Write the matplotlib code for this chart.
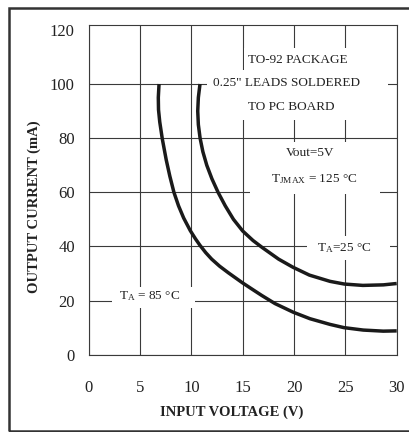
import matplotlib
matplotlib.use("Agg")
import matplotlib.pyplot as plt
from matplotlib.patches import Rectangle

plt.rcParams['font.family'] = 'Liberation Serif'
plt.rcParams['mathtext.fontset'] = 'custom'
plt.rcParams['mathtext.rm'] = 'Liberation Serif'
plt.rcParams['mathtext.it'] = 'Liberation Serif:italic'
plt.rcParams['mathtext.bf'] = 'Liberation Serif:bold'

# T_A = 85 C curve
v_85 = [6.85, 6.78, 6.80, 6.92, 7.17, 7.55, 7.90, 8.30, 8.75, 9.25, 9.90,
        10.40, 10.84, 11.40, 11.98, 12.75, 13.59, 14.96, 16.00, 16.85, 18.14,
        19.92, 21.55, 23.50, 24.86, 26.74, 28.69, 30.0]
i_85 = [100, 95, 90.5, 86, 79.7, 72, 66, 60, 55, 50.5, 45.8,
        42.8, 40.4, 37.7, 35.3, 32.7, 30.3, 26.6, 24.0, 21.9, 18.9,
        15.7, 13.3, 11.2, 10.0, 9.1, 8.7, 8.8]

# T_A = 25 C curve
v_25 = [10.84, 10.68, 10.62, 10.68, 10.85, 11.12, 11.50, 12.00, 12.60, 13.30,
        14.10, 15.00, 16.00, 16.90, 18.50, 19.90, 21.50, 23.50, 24.90, 26.70,
        28.70, 30.0]
i_25 = [100, 95, 90, 85, 80, 75, 70, 65, 60, 55,
        50, 45.7, 42.2, 39.6, 35.3, 32.3, 29.4, 27.1, 26.1, 25.6,
        25.8, 26.3]

x_ticks = [0, 5, 10, 15, 20, 25, 30]
y_ticks = [0, 20, 40, 60, 80, 100, 120]

W, H = 409, 432
fig = plt.figure(figsize=(W / 100, H / 100), dpi=100)
ax = fig.add_axes([88.7 / W, (H - 354.7) / H, 308 / W, 329.7 / H])

ax.set_xlim(0, 30)
ax.set_ylim(0, 121.8)
ax.set_xticks(x_ticks)
ax.set_yticks(y_ticks)
ax.set_axisbelow(True)
ax.grid(True, color='#3a3a3a', linewidth=0.8)
ax.get_ygridlines()[-1].set_visible(False)  # top spine plays that role
for s in ax.spines.values():
    s.set_color('#3a3a3a')
    s.set_linewidth(0.8)
ax.tick_params(axis='both', length=0, labelsize=12, colors='#222222')
ax.tick_params(axis='x', pad=18)
ax.tick_params(axis='y', pad=10)

ax.set_xlabel('INPUT VOLTAGE (V)', fontsize=10.5, fontweight='bold', color='#222222')
ax.set_ylabel('OUTPUT CURRENT (mA)', fontsize=10.5, fontweight='bold', color='#222222')
ax.xaxis.set_label_coords(0.465, -0.155)
ax.yaxis.set_label_coords(-0.155, 0.45)

# white masks behind the notes
masks = [
    (15.1, 105.2, 29.14, 113.3),
    (11.52, 86.7, 29.14, 105.2),
    (15.7, 59.3, 28.4, 78.6),
    (21.26, 35.0, 29.34, 43.8),
    (2.28, 17.2, 10.35, 24.9),
]
for x0, y0, x1, y1 in masks:
    ax.add_patch(Rectangle((x0, y0), x1 - x0, y1 - y0, facecolor='white',
                           edgecolor='none', zorder=1))

ax.plot(v_85, i_85, color='#1a1a1a', linewidth=2.5, zorder=3,
        solid_joinstyle='round', solid_capstyle='butt')
ax.plot(v_25, i_25, color='#1a1a1a', linewidth=2.5, zorder=3,
        solid_joinstyle='round', solid_capstyle='butt')

tkw = dict(ha='center', va='center', fontsize=9.5, color='#222222', zorder=4)
ax.text(20.33, 108.9, 'TO-92 PACKAGE', **tkw)
ax.text(19.26, 100.4, '0.25" LEADS SOLDERED', **tkw)
ax.text(19.7, 91.5, 'TO PC BOARD', **tkw)
ax.text(21.55, 74.5, 'Vout=5V', **tkw)
ax.text(22.0, 64.7, r'T$_{\mathrm{JMAX}}$ = 125 °C', **tkw)
ax.text(24.9, 39.4, r'T$_{\mathrm{A}}$=25 °C', **tkw)
ax.text(5.9, 21.6, r'T$_{\mathrm{A}}$ = 85 °C', **tkw)

# frame around the whole picture
fig.patches.append(Rectangle((8.5 / W, 1.5 / H), 1.2, (H - 8 - 1.5) / H,
                             transform=fig.transFigure, fill=False,
                             edgecolor='#333333', linewidth=1.8))

fig.savefig('out.png', dpi=100)
